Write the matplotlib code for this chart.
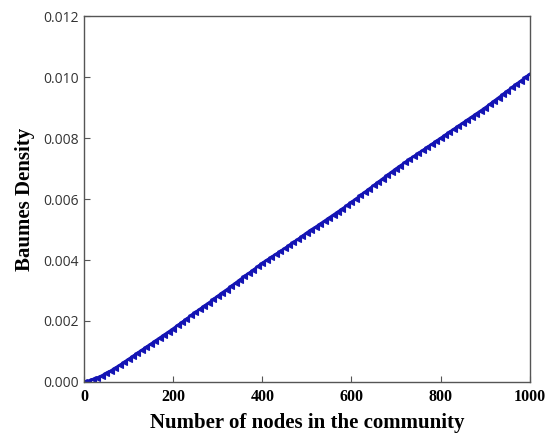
# import packages
import numpy as np
import matplotlib
matplotlib.use('Agg')
import matplotlib.pyplot as plt

# data: community size vs. Baumes density (one point every 10 nodes)
nodes = np.arange(0, 1001, 10)
density = [
    0.00000, 0.00003, 0.00008, 0.00014, 0.00021, 0.00029, 0.00037, 0.00046, 0.00055, 0.00065,
    0.00075, 0.00085, 0.00095, 0.00105, 0.00115, 0.00125, 0.00135, 0.00145, 0.00155, 0.00165,
    0.00175, 0.00186, 0.00196, 0.00207, 0.00218, 0.00228, 0.00239, 0.00250, 0.00260, 0.00271,
    0.00282, 0.00293, 0.00303, 0.00314, 0.00325, 0.00336, 0.00347, 0.00357, 0.00368, 0.00379,
    0.00390, 0.00400, 0.00409, 0.00419, 0.00428, 0.00438, 0.00448, 0.00458, 0.00468, 0.00479,
    0.00490, 0.00500, 0.00509, 0.00519, 0.00529, 0.00539, 0.00549, 0.00559, 0.00569, 0.00579,
    0.00590, 0.00601, 0.00612, 0.00623, 0.00634, 0.00645, 0.00656, 0.00667, 0.00678, 0.00689,
    0.00700, 0.00710, 0.00720, 0.00730, 0.00740, 0.00750, 0.00760, 0.00770, 0.00780, 0.00790,
    0.00800, 0.00810, 0.00820, 0.00830, 0.00840, 0.00850, 0.00860, 0.00870, 0.00880, 0.00890,
    0.00900, 0.00911, 0.00922, 0.00933, 0.00944, 0.00955, 0.00966, 0.00977, 0.00988, 0.00999,
    0.01010,
]
x_ticks = [0, 200, 400, 600, 800, 1000]
y_ticks = [0.000, 0.002, 0.004, 0.006, 0.008, 0.010, 0.012]

serif = 'Liberation Serif'
sans = 'Open Sans'

fig = plt.figure(figsize=(5.45, 4.37), dpi=100)
ax = fig.add_axes([0.154, 0.126, 0.818, 0.837])

# draw plot
ax.plot(nodes, density, color='#1414b4', linewidth=1.8,
        marker='<', markersize=4.5, markeredgewidth=0.8)

ax.set_xlim(0, 1000)
ax.set_ylim(0, 0.012)
ax.set_xticks(x_ticks)
ax.set_xticklabels([str(t) for t in x_ticks], fontsize=11.5, fontfamily=serif, fontweight='bold')
ax.set_yticks(y_ticks)
ax.set_yticklabels(['%.3f' % t for t in y_ticks], fontsize=10, fontfamily=sans, color='#333333')
ax.tick_params(direction='in', length=4, width=0.8, color='#555555')
ax.tick_params(axis='x', pad=5)
for s in ax.spines.values():
    s.set_color('#555555')
    s.set_linewidth(1.0)

ax.set_xlabel('Number of nodes in the community', fontsize=15, fontfamily=serif,
              fontweight='bold', labelpad=6)
ax.set_ylabel('Baumes Density', fontsize=15, fontfamily=serif, fontweight='bold', labelpad=6)

plt.savefig('out.png', dpi=100)
